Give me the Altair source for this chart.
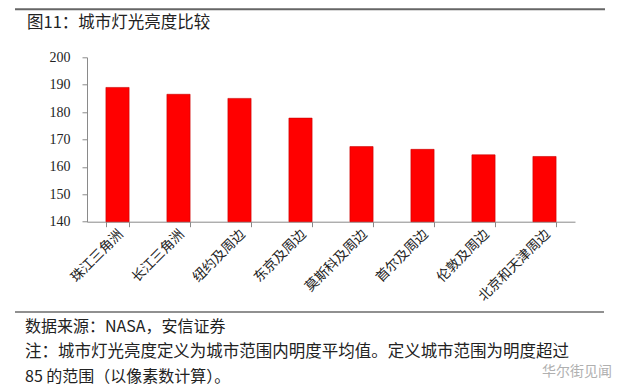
import altair as alt
import pandas as pd

categories = ["珠江三角洲", "长江三角洲", "纽约及周边", "东京及周边", "莫斯科及周边", "首尔及周边", "伦敦及周边", "北京和天津周边"]
values = [189.0, 186.5, 185.0, 177.8, 167.4, 166.4, 164.4, 163.8]
y_ticks = [140, 150, 160, 170, 180, 190, 200]

title_text = "图11：城市灯光亮度比较"
source_text = "数据来源：NASA，安信证券"
note_line1 = "注：城市灯光亮度定义为城市范围内明度平均值。定义城市范围为明度超过"
note_line2 = "85 的范围（以像素数计算）。"
watermark = "华尔街见闻"

CJK = "Noto Sans CJK SC"
SERIF = "Liberation Serif"

df = pd.DataFrame({"city": categories, "value": values})

W, H = 488, 164.4

bars = alt.Chart(df).mark_bar(color="#FF0000", stroke="#C80000", strokeWidth=0.6).encode(
    x=alt.X("city:N", sort=categories, title=None,
            scale=alt.Scale(paddingInner=0.62, paddingOuter=0.31),
            axis=alt.Axis(labelAngle=-45, labelAlign="right", labelBaseline="middle",
                          labelFont=CJK, labelFontSize=13.5, labelColor="#222",
                          labelPadding=5, labelOffset=3, tickBand="extent", tickSize=5,
                          domainColor="#8a8a8a", tickColor="#8a8a8a", labelLimit=200)),
    y=alt.Y("value:Q", title=None,
            scale=alt.Scale(domain=[140, 200], zero=False, nice=False),
            axis=alt.Axis(values=y_ticks, grid=False, labelFont=SERIF, labelFontSize=14,
                          labelColor="#222", labelPadding=12, tickSize=5,
                          domainColor="#8a8a8a", tickColor="#8a8a8a")),
    y2=alt.datum(140),
)

def text_layer(txt, x, y, size=16.5, color="#222", font=CJK):
    return alt.Chart(pd.DataFrame({"t": [txt]})).mark_text(
        align="left", baseline="middle", font=font, fontSize=size, color=color
    ).encode(x=alt.value(x), y=alt.value(y), text="t:N")

def hrule(x1, x2, y, color="#555", width=1.5):
    return alt.Chart(pd.DataFrame({"a": [0]})).mark_rule(color=color, strokeWidth=width).encode(
        x=alt.value(x1), x2=alt.value(x2), y=alt.value(y))

top_rule = hrule(-72, 518, -48.0, color="#666", width=2)
foot_rule = hrule(-72, 517, 254.7, color="#222", width=1.2)

title = text_layer(title_text, -60, -34.3, size=16.5)
src = text_layer(source_text, -62, 269.7, size=16)
n1 = text_layer(note_line1, -62, 294.7, size=16.5)
n2 = text_layer(note_line2, -62, 319.7, size=16)
wm = text_layer(watermark, 455, 315, size=14, color="#b0b0b0")

chart = alt.layer(bars, top_rule, foot_rule, title, src, n1, n2, wm).properties(
    width=W, height=H,
    autosize=alt.AutoSizeParams(type="none"),
    padding={"left": 79, "top": 49.3, "right": 57, "bottom": 168},
    background="white",
).configure_view(stroke=None)

chart.save("out.html", embed_options={"renderer": "svg", "actions": False})
